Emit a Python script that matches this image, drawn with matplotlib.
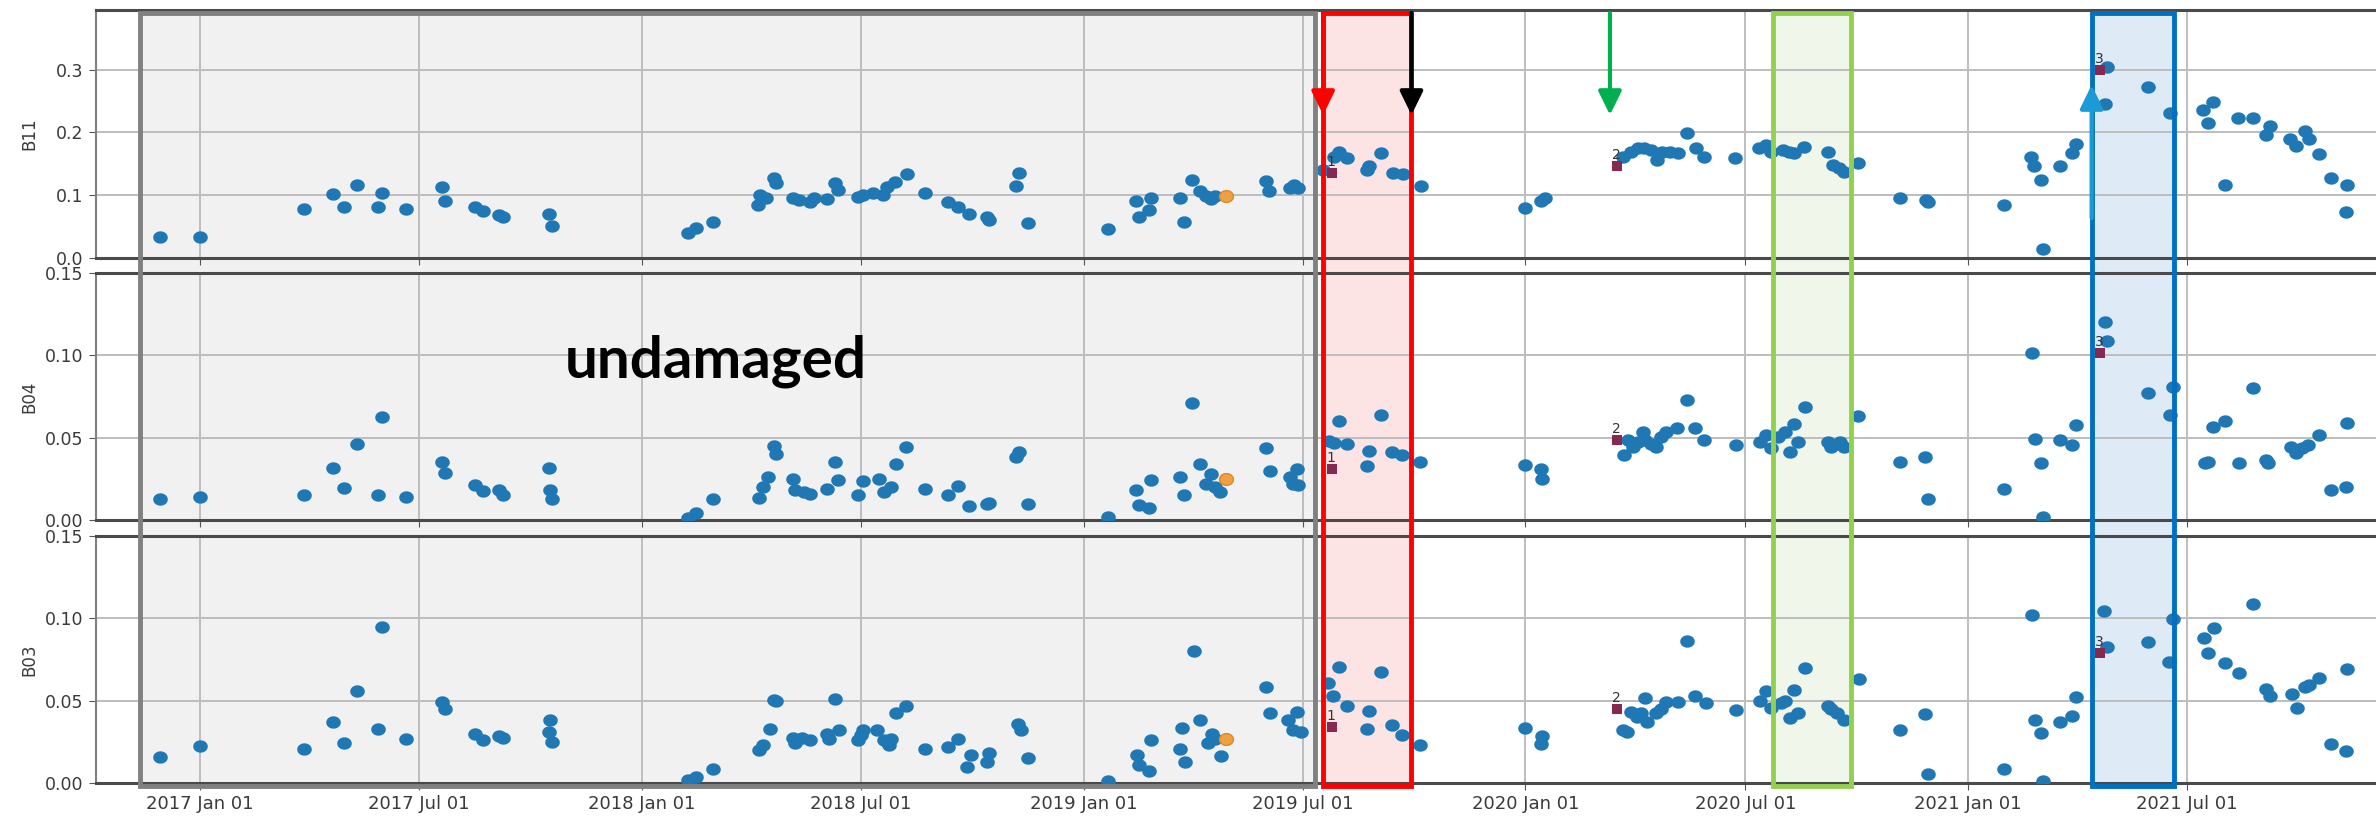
import numpy as np
import matplotlib
matplotlib.use("Agg")
import matplotlib.pyplot as plt
import matplotlib.dates as mdates
from matplotlib.patches import Rectangle, FancyArrowPatch
from matplotlib.transforms import blended_transform_factory
from matplotlib.path import Path

# ---- reflectance series ----
b11_dates = [
    "2016-11-29", "2017-01-01", "2017-03-28", "2017-04-21", "2017-04-30", "2017-05-11",
    "2017-05-28", "2017-05-31", "2017-06-20", "2017-07-20", "2017-07-22", "2017-08-16",
    "2017-08-23", "2017-09-05", "2017-09-08", "2017-10-16", "2017-10-19", "2018-02-08",
    "2018-02-15", "2018-03-01", "2018-04-07", "2018-04-09", "2018-04-14", "2018-04-20",
    "2018-04-22", "2018-05-06", "2018-05-11", "2018-05-20", "2018-05-23", "2018-06-03",
    "2018-06-10", "2018-06-12", "2018-06-29", "2018-07-03", "2018-07-11", "2018-07-19",
    "2018-07-23", "2018-07-29", "2018-08-08", "2018-08-23", "2018-09-11", "2018-09-19",
    "2018-09-28", "2018-10-13", "2018-10-15", "2018-11-06", "2018-11-09", "2018-11-16",
    "2019-01-21", "2019-02-13", "2019-02-16", "2019-02-24", "2019-02-26", "2019-03-22",
    "2019-03-25", "2019-04-01", "2019-04-07", "2019-04-12", "2019-04-16", "2019-04-20",
    "2019-06-01", "2019-06-03", "2019-06-21", "2019-06-24", "2019-06-27", "2019-07-18",
    "2019-07-27", "2019-07-31", "2019-08-07", "2019-08-23", "2019-08-25", "2019-09-04",
    "2019-09-14", "2019-09-22", "2019-10-07", "2020-01-01", "2020-01-14", "2020-01-17",
    "2020-03-22", "2020-03-28", "2020-04-03", "2020-04-08", "2020-04-14", "2020-04-19",
    "2020-04-23", "2020-04-30", "2020-05-06", "2020-05-14", "2020-05-21", "2020-05-28",
    "2020-06-22", "2020-07-12", "2020-07-18", "2020-07-22", "2020-08-01", "2020-08-06",
    "2020-08-10", "2020-08-18", "2020-09-07", "2020-09-11", "2020-09-16", "2020-09-20",
    "2020-10-02", "2020-11-06", "2020-11-27", "2020-11-29", "2021-01-31", "2021-02-22",
    "2021-02-24", "2021-03-02", "2021-03-04", "2021-03-18", "2021-03-28", "2021-03-31",
    "2021-04-26", "2021-04-24", "2021-05-30", "2021-06-17", "2021-07-14", "2021-07-18",
    "2021-07-22", "2021-08-01", "2021-08-12", "2021-08-24", "2021-09-04", "2021-09-07",
    "2021-09-24", "2021-09-29", "2021-10-06", "2021-10-10", "2021-10-18", "2021-10-28",
    "2021-11-10", "2021-11-09",
]
b11 = [
    0.034, 0.034, 0.078, 0.102, 0.081, 0.116,
    0.081, 0.104, 0.078, 0.113, 0.091, 0.082,
    0.075, 0.069, 0.065, 0.070, 0.051, 0.040,
    0.047, 0.058, 0.085, 0.100, 0.096, 0.128,
    0.119, 0.096, 0.093, 0.089, 0.096, 0.094,
    0.119, 0.108, 0.097, 0.100, 0.104, 0.100,
    0.113, 0.121, 0.134, 0.104, 0.089, 0.082,
    0.070, 0.066, 0.060, 0.114, 0.136, 0.055,
    0.046, 0.090, 0.065, 0.076, 0.095, 0.096,
    0.058, 0.125, 0.106, 0.098, 0.094, 0.099,
    0.122, 0.106, 0.112, 0.116, 0.112, 0.140,
    0.161, 0.169, 0.159, 0.140, 0.147, 0.167,
    0.135, 0.134, 0.115, 0.080, 0.090, 0.096,
    0.161, 0.169, 0.175, 0.175, 0.172, 0.156,
    0.169, 0.169, 0.167, 0.199, 0.175, 0.161,
    0.159, 0.175, 0.180, 0.169, 0.172, 0.169,
    0.167, 0.177, 0.169, 0.148, 0.143, 0.137,
    0.151, 0.096, 0.093, 0.089, 0.085, 0.161,
    0.146, 0.125, 0.014, 0.147, 0.167, 0.181,
    0.305, 0.246, 0.273, 0.231, 0.236, 0.215,
    0.248, 0.117, 0.223, 0.223, 0.196, 0.210,
    0.189, 0.178, 0.202, 0.189, 0.165, 0.127,
    0.117, 0.074,
]

b04_dates = [
    "2016-11-29", "2017-01-01", "2017-03-28", "2017-04-21", "2017-04-30", "2017-05-11",
    "2017-05-28", "2017-05-31", "2017-06-20", "2017-07-20", "2017-07-22", "2017-08-16",
    "2017-08-23", "2017-09-05", "2017-09-08", "2017-10-16", "2017-10-17", "2017-10-19",
    "2018-02-08", "2018-02-15", "2018-03-01", "2018-04-08", "2018-04-11", "2018-04-15",
    "2018-04-20", "2018-04-22", "2018-05-06", "2018-05-08", "2018-05-15", "2018-05-20",
    "2018-06-03", "2018-06-10", "2018-06-12", "2018-06-29", "2018-07-03", "2018-07-16",
    "2018-07-20", "2018-07-26", "2018-07-30", "2018-08-07", "2018-08-23", "2018-09-11",
    "2018-09-19", "2018-09-28", "2018-10-13", "2018-10-15", "2018-11-06", "2018-11-09",
    "2018-11-16", "2019-01-21", "2019-02-13", "2019-02-16", "2019-02-24", "2019-02-26",
    "2019-03-22", "2019-03-25", "2019-04-01", "2019-04-07", "2019-04-12", "2019-04-16",
    "2019-04-20", "2019-04-24", "2019-06-01", "2019-06-04", "2019-06-21", "2019-06-23",
    "2019-06-26", "2019-06-27", "2019-07-23", "2019-07-27", "2019-07-31", "2019-08-07",
    "2019-08-23", "2019-08-25", "2019-09-04", "2019-09-13", "2019-09-21", "2019-10-06",
    "2020-01-01", "2020-01-14", "2020-01-15", "2020-03-23", "2020-03-26", "2020-03-30",
    "2020-04-03", "2020-04-07", "2020-04-09", "2020-04-14", "2020-04-18", "2020-04-22",
    "2020-04-26", "2020-05-05", "2020-05-14", "2020-05-20", "2020-05-28", "2020-06-23",
    "2020-07-13", "2020-07-18", "2020-07-22", "2020-07-28", "2020-08-03", "2020-08-07",
    "2020-08-10", "2020-08-13", "2020-08-19", "2020-09-07", "2020-09-10", "2020-09-17",
    "2020-09-20", "2020-10-02", "2020-11-06", "2020-11-26", "2020-11-29", "2021-01-31",
    "2021-02-23", "2021-02-25", "2021-03-02", "2021-03-04", "2021-03-18", "2021-03-28",
    "2021-03-31", "2021-04-24", "2021-04-26", "2021-05-30", "2021-06-17", "2021-06-19",
    "2021-07-16", "2021-07-18", "2021-07-22", "2021-08-01", "2021-08-13", "2021-08-24",
    "2021-09-04", "2021-09-06", "2021-09-25", "2021-09-29", "2021-10-04", "2021-10-09",
    "2021-10-18", "2021-10-28", "2021-11-09", "2021-11-10",
]
b04 = [
    0.0126, 0.0142, 0.0150, 0.0314, 0.0192, 0.0460,
    0.0150, 0.0628, 0.0142, 0.0354, 0.0283, 0.0210,
    0.0178, 0.0180, 0.0150, 0.0314, 0.0180, 0.0130,
    0.0010, 0.0040, 0.0126, 0.0134, 0.0200, 0.0260,
    0.0450, 0.0400, 0.0250, 0.0180, 0.0170, 0.0160,
    0.0186, 0.0354, 0.0240, 0.0150, 0.0237, 0.0250,
    0.0170, 0.0200, 0.0340, 0.0445, 0.0190, 0.0150,
    0.0206, 0.0085, 0.0100, 0.0105, 0.0380, 0.0410,
    0.0095, 0.0016, 0.0180, 0.0090, 0.0070, 0.0240,
    0.0260, 0.0150, 0.0710, 0.0340, 0.0220, 0.0280,
    0.0200, 0.0170, 0.0435, 0.0300, 0.0260, 0.0220,
    0.0310, 0.0210, 0.0480, 0.0470, 0.0600, 0.0460,
    0.0328, 0.0420, 0.0640, 0.0415, 0.0395, 0.0354,
    0.0334, 0.0308, 0.0250, 0.0395, 0.0486, 0.0445,
    0.0476, 0.0536, 0.0486, 0.0460, 0.0445, 0.0506,
    0.0536, 0.0557, 0.0730, 0.0557, 0.0486, 0.0455,
    0.0476, 0.0516, 0.0435, 0.0506, 0.0536, 0.0415,
    0.0583, 0.0476, 0.0688, 0.0476, 0.0445, 0.0476,
    0.0445, 0.0630, 0.0354, 0.0385, 0.0130, 0.0190,
    0.1016, 0.0490, 0.0348, 0.0016, 0.0486, 0.0455,
    0.0577, 0.1200, 0.1090, 0.0773, 0.0638, 0.0806,
    0.0348, 0.0350, 0.0567, 0.0603, 0.0348, 0.0800,
    0.0364, 0.0344, 0.0445, 0.0405, 0.0435, 0.0455,
    0.0516, 0.0180, 0.0198, 0.0587,
]

b03_dates = [
    "2016-11-29", "2017-01-01", "2017-03-28", "2017-04-21", "2017-04-30", "2017-05-11",
    "2017-05-28", "2017-05-31", "2017-06-20", "2017-07-20", "2017-07-22", "2017-08-16",
    "2017-08-23", "2017-09-05", "2017-09-08", "2017-10-16", "2017-10-17", "2017-10-19",
    "2018-02-08", "2018-02-15", "2018-03-01", "2018-04-08", "2018-04-11", "2018-04-17",
    "2018-04-20", "2018-04-22", "2018-05-06", "2018-05-08", "2018-05-13", "2018-05-20",
    "2018-06-03", "2018-06-05", "2018-06-10", "2018-06-13", "2018-06-29", "2018-07-01",
    "2018-07-03", "2018-07-14", "2018-07-20", "2018-07-24", "2018-07-26", "2018-07-30",
    "2018-08-07", "2018-08-23", "2018-09-11", "2018-09-19", "2018-09-27", "2018-09-30",
    "2018-10-13", "2018-10-15", "2018-11-08", "2018-11-10", "2018-11-16", "2019-01-21",
    "2019-02-14", "2019-02-16", "2019-02-24", "2019-02-26", "2019-03-22", "2019-03-23",
    "2019-03-26", "2019-04-02", "2019-04-07", "2019-04-14", "2019-04-17", "2019-04-20",
    "2019-04-25", "2019-06-01", "2019-06-04", "2019-06-19", "2019-06-23", "2019-06-26",
    "2019-06-30", "2019-07-22", "2019-07-26", "2019-07-31", "2019-08-07", "2019-08-23",
    "2019-08-25", "2019-09-04", "2019-09-13", "2019-09-21", "2019-10-06", "2020-01-01",
    "2020-01-15", "2020-01-14", "2020-03-22", "2020-03-25", "2020-03-28", "2020-04-02",
    "2020-04-06", "2020-04-09", "2020-04-11", "2020-04-18", "2020-04-22", "2020-04-26",
    "2020-05-06", "2020-05-14", "2020-05-20", "2020-05-29", "2020-06-23", "2020-07-13",
    "2020-07-18", "2020-07-22", "2020-07-30", "2020-08-03", "2020-08-07", "2020-08-10",
    "2020-08-13", "2020-08-19", "2020-09-07", "2020-09-10", "2020-09-15", "2020-09-20",
    "2020-10-03", "2020-11-06", "2020-11-26", "2020-11-29", "2021-01-31", "2021-02-23",
    "2021-02-25", "2021-03-02", "2021-03-04", "2021-03-18", "2021-03-28", "2021-03-31",
    "2021-04-23", "2021-04-26", "2021-05-30", "2021-06-16", "2021-06-19", "2021-07-15",
    "2021-07-18", "2021-07-23", "2021-08-01", "2021-08-13", "2021-08-24", "2021-09-04",
    "2021-09-07", "2021-09-26", "2021-09-30", "2021-10-06", "2021-10-10", "2021-10-18",
    "2021-10-28", "2021-11-09", "2021-11-10",
]
b03 = [
    0.0158, 0.0222, 0.0206, 0.0370, 0.0242, 0.0560,
    0.0327, 0.0945, 0.0270, 0.0489, 0.0448, 0.0297,
    0.0263, 0.0287, 0.0273, 0.0307, 0.0384, 0.0246,
    0.0020, 0.0036, 0.0085, 0.0202, 0.0232, 0.0327,
    0.0505, 0.0495, 0.0273, 0.0240, 0.0273, 0.0260,
    0.0300, 0.0270, 0.0510, 0.0320, 0.0260, 0.0290,
    0.0320, 0.0320, 0.0260, 0.0230, 0.0270, 0.0428,
    0.0470, 0.0206, 0.0218, 0.0270, 0.0100, 0.0170,
    0.0127, 0.0180, 0.0360, 0.0320, 0.0150, 0.0010,
    0.0170, 0.0110, 0.0070, 0.0259, 0.0206, 0.0333,
    0.0125, 0.0804, 0.0384, 0.0240, 0.0300, 0.0270,
    0.0166, 0.0586, 0.0424, 0.0384, 0.0320, 0.0434,
    0.0310, 0.0610, 0.0530, 0.0707, 0.0469, 0.0327,
    0.0440, 0.0677, 0.0354, 0.0293, 0.0232, 0.0333,
    0.0283, 0.0238, 0.0320, 0.0310, 0.0434, 0.0400,
    0.0424, 0.0515, 0.0370, 0.0424, 0.0450, 0.0489,
    0.0489, 0.0863, 0.0530, 0.0485, 0.0444, 0.0495,
    0.0556, 0.0455, 0.0485, 0.0495, 0.0394, 0.0562,
    0.0428, 0.0700, 0.0465, 0.0448, 0.0428, 0.0384,
    0.0634, 0.0320, 0.0418, 0.0057, 0.0085, 0.1020,
    0.0384, 0.0303, 0.0010, 0.0368, 0.0408, 0.0525,
    0.1046, 0.0828, 0.0859, 0.0737, 0.0996, 0.0879,
    0.0792, 0.0939, 0.0731, 0.0667, 0.1085, 0.0570,
    0.0530, 0.0540, 0.0455, 0.0586, 0.0596, 0.0636,
    0.0238, 0.0192, 0.0690,
]

# detected change events (maroon squares) and reference acquisition (orange)
event_dates = ["2019-07-25", "2020-03-17", "2021-04-20"]
event_labels = ["1", "2", "3"]
event_b11 = [0.135, 0.146, 0.300]
event_b04 = [0.0308, 0.0486, 0.1012]
event_b03 = [0.0343, 0.0448, 0.0788]
ref_date = "2019-04-29"
ref_b11, ref_b04, ref_b03 = 0.098, 0.025, 0.0267

# highlighted windows and arrows
undamaged_span = ("2016-11-12", "2019-07-11")
red_span = ("2019-07-18", "2019-09-29")
green_span = ("2020-07-24", "2020-09-26")
blue_span = ("2021-04-13", "2021-06-20")
down_arrows = [("2019-07-18", "#ff0000"), ("2019-09-29", "#000000"), ("2020-03-11", "#00b050")]
up_arrow = ("2021-04-13", "#1b9ad8")

panels = [
    ("B11", b11_dates, b11, event_b11, ref_b11, 0.395, [0.0, 0.1, 0.2, 0.3], "%.1f"),
    ("B04", b04_dates, b04, event_b04, ref_b04, 0.15, [0.0, 0.05, 0.10, 0.15], "%.2f"),
    ("B03", b03_dates, b03, event_b03, ref_b03, 0.15, [0.0, 0.05, 0.10, 0.15], "%.2f"),
]

W, H = 2376, 816
fig = plt.figure(figsize=(W / 100, H / 100), dpi=100)

# panel boxes in pixels: (top, bottom)
boxes = [(10, 258), (273, 520), (536, 783)]
left_px = 96

t = np.linspace(0, 2 * np.pi, 48)
dot = Path(np.column_stack([np.cos(t), 0.85 * np.sin(t)]))

def d2n(s):
    return mdates.date2num(np.datetime64(s))

xmin, xmax = d2n("2016-10-07"), d2n("2021-12-04")

axes = []
for (name, dts, vals, ev, ref, ytop, yt, fmt), (top, bot) in zip(panels, boxes):
    ax = fig.add_axes([left_px / W, 1 - bot / H, 1 - left_px / W, (bot - top) / H])
    ax.set_facecolor("none")
    x = mdates.date2num(np.array(dts, dtype="datetime64[D]"))
    ax.scatter(x, vals, s=110, marker=dot, color="#1f77b4", linewidths=0, zorder=3)
    ax.scatter([d2n(ref_date)], [ref], s=100, marker=dot, color="#f0a040",
               edgecolors="#d98a2b", linewidths=1, zorder=4)
    ex = mdates.date2num(np.array(event_dates, dtype="datetime64[D]"))
    ax.scatter(ex, ev, s=50, marker="s", color="#86284f", linewidths=0, zorder=4)
    for xx, yy, lab in zip(ex, ev, event_labels):
        ax.annotate(lab, (xx, yy), xytext=(-4, 5), textcoords="offset points",
                    fontsize=10, color="#333333", zorder=5)
    ax.set_xlim(xmin, xmax)
    ax.set_ylim(0, ytop)
    ax.set_yticks(yt)
    ax.yaxis.set_major_formatter(matplotlib.ticker.FormatStrFormatter(fmt))
    ax.xaxis.set_major_locator(mdates.MonthLocator(bymonth=[1, 7], bymonthday=1))
    ax.xaxis.set_major_formatter(mdates.DateFormatter("%Y %b %d"))
    ax.grid(True, color="#bdbdbd", lw=1.4)
    ax.set_axisbelow(True)
    for side in ["top", "bottom"]:
        ax.spines[side].set_color("#4a4a4a")
        ax.spines[side].set_linewidth(2.2)
    ax.spines["left"].set_color("#808080")
    ax.spines["left"].set_linewidth(1.5)
    ax.spines["right"].set_visible(False)
    ax.tick_params(axis="y", labelsize=12.5, labelcolor="#3a3a3a", color="#555555",
                   length=5, pad=4)
    ax.tick_params(axis="x", labelsize=13, labelcolor="#3a3a3a", color="#555555", length=5)
    ax.set_ylabel(name, fontsize=12, color="#3a3a3a")
    ax.yaxis.set_label_coords(-0.0254, 0.5)
    axes.append(ax)

for ax in axes[:-1]:
    ax.tick_params(axis="x", labelbottom=False)

# shaded windows spanning all three panels
tr = blended_transform_factory(axes[0].transData, fig.transFigure)
y_lo, y_hi = 1 - 786 / H, 1 - 13 / H
windows = [
    (undamaged_span, "#f1f1f1", "#808080"),
    (red_span, "#fde4e4", "#ff0000"),
    (green_span, "#f0f6e9", "#92d050"),
    (blue_span, "#deebf7", "#0070c0"),
]
for (a, b), fill, edge in windows:
    x0, x1 = d2n(a), d2n(b)
    fig.add_artist(Rectangle((x0, y_lo), x1 - x0, y_hi - y_lo, transform=tr,
                             facecolor=fill, edgecolor="none", zorder=-1))
    fig.add_artist(Rectangle((x0, y_lo), x1 - x0, y_hi - y_lo, transform=tr,
                             facecolor="none", edgecolor=edge, lw=3.5, zorder=6))

arrow_style = "-|>,head_length=0.45,head_width=0.22"
for dt, col in down_arrows:
    xa = d2n(dt)
    fig.add_artist(FancyArrowPatch((xa, 1 - 13 / H), (xa, 1 - 115 / H), transform=tr,
                                   arrowstyle=arrow_style, mutation_scale=32, lw=3,
                                   color=col, shrinkA=0, shrinkB=0, zorder=7))
xa = d2n(up_arrow[0])
fig.add_artist(FancyArrowPatch((xa, 1 - 218 / H), (xa, 1 - 85 / H), transform=tr,
                               arrowstyle=arrow_style, mutation_scale=32, lw=3,
                               color=up_arrow[1], shrinkA=0, shrinkB=0, zorder=7))

fig.text(716 / W, 1 - 377 / H, "undamaged", fontsize=42, fontweight="bold",
         family=["Lato", "DejaVu Sans"], ha="center", va="baseline", color="black", zorder=8)

fig.savefig("out.png", dpi=100)
